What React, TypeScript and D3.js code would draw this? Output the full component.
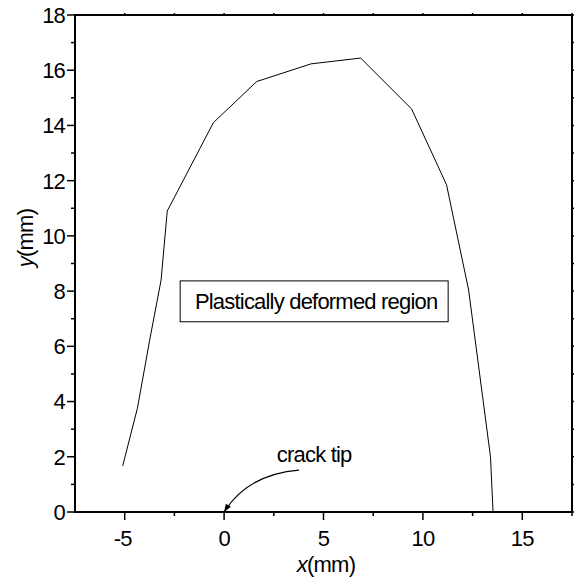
import React from "react";
import * as d3 from "d3";

const curveX = [-5.1, -4.36, -3.75, -3.17, -2.86, -0.54, 1.64, 4.37, 6.87, 9.43, 11.19, 12.3, 13.4, 13.53];
const curveY = [1.67, 3.76, 6.2, 8.4, 10.9, 14.1, 15.59, 16.23, 16.44, 14.6, 11.85, 8.04, 2.0, 0];

const xMajor = [-5, 0, 5, 10, 15];
const xMinor = [-2.5, 2.5, 7.5, 12.5, 17.5];
const yMajor = [0, 2, 4, 6, 8, 10, 12, 14, 16, 18];
const yMinor = [1, 3, 5, 7, 9, 11, 13, 15, 17];

const boxLabel = "Plastically deformed region";
const boxCorners = [-2.21, 11.27, 6.89, 8.37]; // x0, x1, y0, y1 in data units
const tipLabel = "crack tip";
const tipLabelPos = [4.53, 1.82];
const arrowStart = [3.77, 1.52];
const arrowCtrl = [1.2, 1.37];
const arrowEnd = [0, 0];

const W = 574;
const H = 581;
const L = 75, R = 572, T = 15, B = 512;
const FONT = "'Liberation Sans', Arial, Helvetica, sans-serif";

export default function App() {
  const x = d3.scaleLinear().domain([-7.5, 17.5]).range([L, R]);
  const y = d3.scaleLinear().domain([0, 18]).range([B, T]);
  const pts: [number, number][] = curveX.map((v, i) => [v, curveY[i]]);
  const line = d3.line<[number, number]>().x(d => x(d[0])).y(d => y(d[1]));

  const ax0 = x(arrowStart[0]), ay0 = y(arrowStart[1]);
  const acx = x(arrowCtrl[0]), acy = y(arrowCtrl[1]);
  const ax1 = x(arrowEnd[0]), ay1 = y(arrowEnd[1]);
  const path = d3.path();
  path.moveTo(ax0, ay0);
  path.quadraticCurveTo(acx, acy, ax1, ay1);
  // arrowhead direction from control point to end
  const ang = Math.atan2(ay1 - acy, ax1 - acx);
  const hl = 8, hw = 3;
  const hx = ax1 - hl * Math.cos(ang), hy = ay1 - hl * Math.sin(ang);
  const head = `M${ax1},${ay1} L${hx + hw * Math.sin(ang)},${hy - hw * Math.cos(ang)} L${hx - hw * Math.sin(ang)},${hy + hw * Math.cos(ang)} Z`;

  const ls = -0.8;
  return (
    <svg width={W} height={H} style={{ position: "absolute", left: 0, top: 0, background: "#fff" }} fontFamily={FONT}>
      <rect x={0} y={0} width={W} height={H} fill="#fff" />
      {/* curve */}
      <path d={line(pts) || ""} fill="none" stroke="#000" strokeWidth={1} />
      {/* box */}
      <rect x={x(boxCorners[0])} y={y(boxCorners[3])} width={x(boxCorners[1]) - x(boxCorners[0])} height={y(boxCorners[2]) - y(boxCorners[3])} fill="#fff" stroke="#000" strokeWidth={1} />
      <text x={(x(boxCorners[0]) + x(boxCorners[1])) / 2 + 2} y={(y(boxCorners[2]) + y(boxCorners[3])) / 2} dy="0.36em" textAnchor="middle" fontSize={22} letterSpacing={ls}>{boxLabel}</text>
      {/* crack tip */}
      <text x={x(tipLabelPos[0])} y={y(tipLabelPos[1])} textAnchor="middle" fontSize={22} letterSpacing={ls}>{tipLabel}</text>
      <path d={path.toString()} fill="none" stroke="#000" strokeWidth={1.2} />
      <path d={head} fill="#000" />
      {/* axes frame */}
      <line x1={L} x2={R} y1={B} y2={B} stroke="#000" strokeWidth={2} />
      <line x1={L} x2={R} y1={T} y2={T} stroke="#000" strokeWidth={2} />
      <line x1={L} x2={L} y1={T - 1} y2={B + 1} stroke="#000" strokeWidth={2} />
      <line x1={R} x2={R} y1={T - 1} y2={B + 1} stroke="#000" strokeWidth={2} />
      {/* x ticks */}
      {xMajor.map(v => (
        <g key={"xM" + v}>
          <line x1={x(v)} x2={x(v)} y1={B} y2={B + 8} stroke="#000" strokeWidth={1.5} />
          <line x1={x(v)} x2={x(v)} y1={T} y2={T - 2} stroke="#000" strokeWidth={1.5} />
          <text x={x(v) - (v < 0 ? 2 : 0)} y={B + 34} textAnchor="middle" fontSize={22} letterSpacing={ls}>{v}</text>
        </g>
      ))}
      {xMinor.map(v => (
        <g key={"xm" + v}>
          <line x1={x(v)} x2={x(v)} y1={B} y2={B + 4} stroke="#000" strokeWidth={1.5} />
          <line x1={x(v)} x2={x(v)} y1={T} y2={T - 2} stroke="#000" strokeWidth={1.5} />
        </g>
      ))}
      {/* y ticks */}
      {yMajor.map(v => (
        <g key={"yM" + v}>
          <line x1={L} x2={L - 8} y1={y(v)} y2={y(v)} stroke="#000" strokeWidth={1.5} />
          <line x1={R} x2={R + 2} y1={y(v)} y2={y(v)} stroke="#000" strokeWidth={1.5} />
          <text x={L - 10} y={y(v)} dy="0.36em" textAnchor="end" fontSize={22} letterSpacing={ls}>{v}</text>
        </g>
      ))}
      {yMinor.map(v => (
        <g key={"ym" + v}>
          <line x1={L} x2={L - 4} y1={y(v)} y2={y(v)} stroke="#000" strokeWidth={1.5} />
          <line x1={R} x2={R + 2} y1={y(v)} y2={y(v)} stroke="#000" strokeWidth={1.5} />
        </g>
      ))}
      {/* axis titles */}
      <text x={326} y={572} textAnchor="middle" fontSize={22} letterSpacing={ls}>
        <tspan fontStyle="italic">x</tspan>(mm)
      </text>
      <text transform={`translate(33, 238) rotate(-90)`} textAnchor="middle" fontSize={22} letterSpacing={ls}>
        <tspan fontStyle="italic">y</tspan>(mm)
      </text>
    </svg>
  );
}
